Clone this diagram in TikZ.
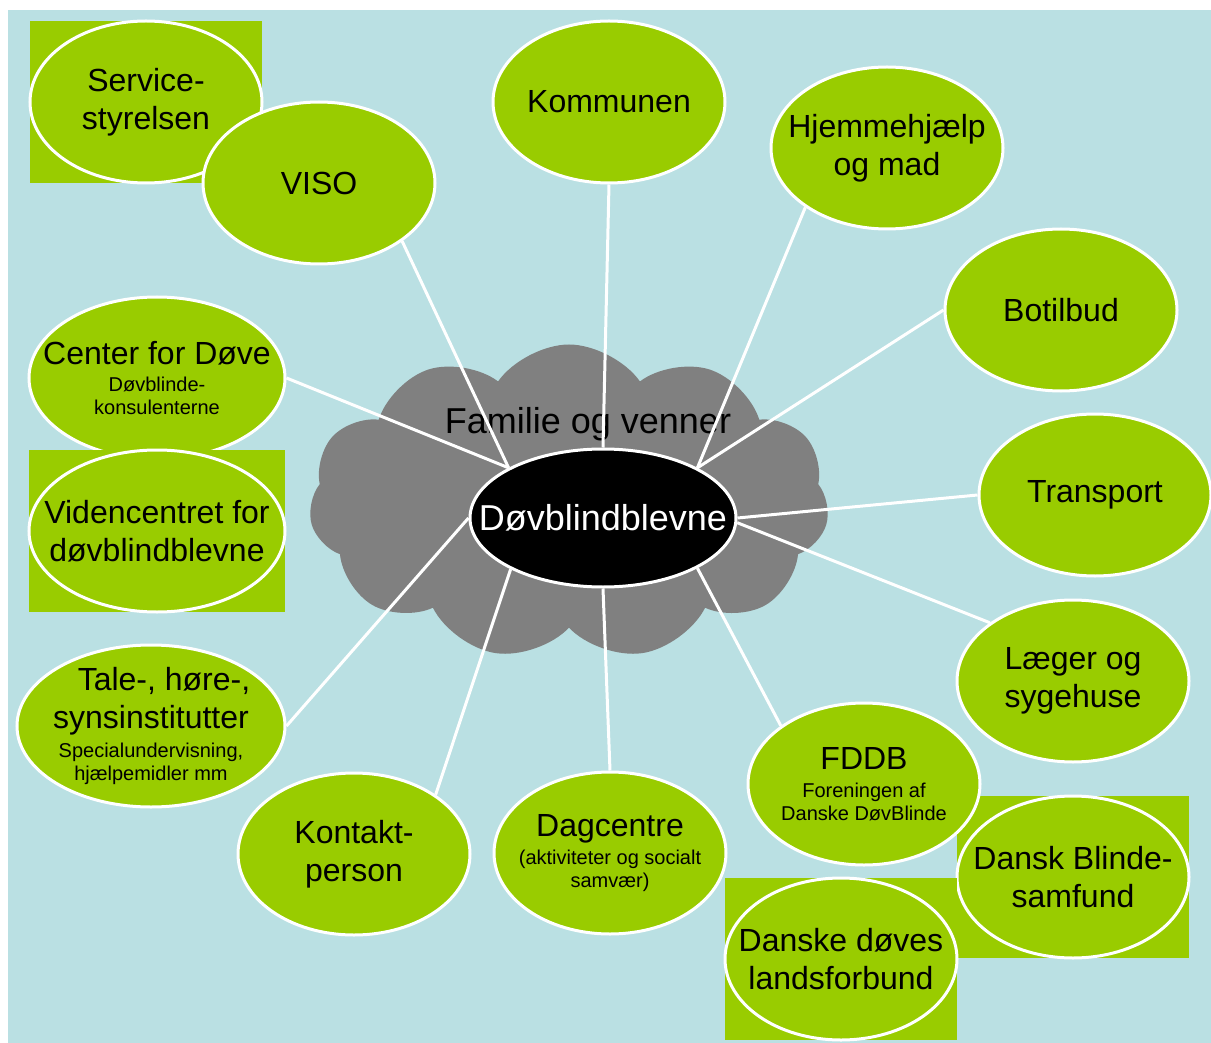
\documentclass[tikz,border=0pt]{standalone}
\usepackage{fontspec}
\setmainfont{Liberation Sans}
\usetikzlibrary{shapes.geometric,shapes.symbols}

\definecolor{skyblue}{HTML}{BAE0E3}
\definecolor{leafgreen}{HTML}{99CC00}
\definecolor{cloudgray}{HTML}{808080}

\newcommand{\bigtxt}{\fontsize{32}{38}\selectfont}
\newcommand{\centertxt}{\fontsize{36}{40}\selectfont}
\newcommand{\note}[1]{{\fontsize{20}{23}\selectfont #1\par}}

\begin{document}
\begin{tikzpicture}[x=1pt, y=-1pt]
      \tikzstyle{party}=[ellipse, draw=white, line width=3pt, fill=leafgreen, minimum width=232pt, minimum height=162pt, inner xsep=-50pt, inner ysep=-12pt, font=\bigtxt,
        execute at begin node={\begin{minipage}{236pt}\centering}, execute at end node={\end{minipage}}]
      \tikzstyle{wide party}=[party, minimum width=256pt]
      \tikzstyle{green box}=[rectangle, fill=leafgreen, minimum width=232pt, minimum height=162pt, inner sep=0pt]
      \tikzstyle{link}=[draw=white, line width=3pt]

      \useasboundingbox (0,0) rectangle (1211,1043);
      \fill[skyblue] (8,10) rectangle (1211,1043);

      % family cloud round the person
      \node[cloud, cloud puffs=11, cloud puff arc=110, aspect=1.65, fill=cloudgray, minimum width=520pt, minimum height=315pt, inner sep=0pt] (family) at (569,502) {};
      \node[font=\centertxt, anchor=base] (familytxt) at (588,433) {Familie og venner};

      % the ring of helpers
      \node[green box] (svcbox) at (146,102) {};
      \node[party] (svc) at (146,102) {Service-\\styrelsen};
      \node[party] (viso) at (319,183) {VISO};
      \node[party] (kommune) at (609,102) {Kommunen};
      \node[party] (hjem) at (887,148) {Hjemmehjælp\\og mad};
      \node[party] (botilbud) at (1061,310) {Botilbud};
      \node[party] (transport) at (1095,495) {Transport};
      \node[party] (laeger) at (1073,681) {Læger og\\sygehuse};
      \node[green box] (blindbox) at (1073,877) {};
      \node[party] (blind) at (1073,877) {Dansk Blinde-\\samfund};
      \node[party] (fddb) at (864,784) {FDDB\\[5pt]\note{Foreningen af\\Danske DøvBlinde}};
      \node[green box] (doevbox) at (841,959) {};
      \node[party] (doev) at (841,959) {Danske døves\\landsforbund};
      \node[party] (dag) at (610,853) {Dagcentre\\[5pt]\note{(aktiviteter og socialt\\samvær)}};
      \node[party] (kontakt) at (354,854) {Kontakt-\\person};
      \node[wide party, minimum width=268pt] (tale) at (151,726) {\hspace*{26pt}Tale-, høre-,\\synsinstitutter\\[6pt]\note{Specialundervisning,\\hjælpemidler mm}};
      \node[wide party] (cfd) at (157,378) {Center for Døve\\[4pt]\note{Døvblinde-\\konsulenterne}};
      \node[green box, minimum width=256pt] (videnbox) at (157,531) {};
      \node[wide party] (viden) at (157,531) {Videncentret for\\døvblindblevne};

      \node[ellipse, fill=black, draw=white, line width=3pt, minimum width=266pt, minimum height=138pt, inner xsep=-80pt, inner ysep=0pt, text=white, font=\centertxt] (dbb) at (603,518) {Døvblindblevne};

      \path (cfd.0) edge [link] (dbb.152);
      \path (viso.-35) edge [link] (dbb.152);
      \path (kommune.-90) edge [link] (dbb.90);
      \path (hjem.-144) edge [link] (dbb.28);
      \path (botilbud.180) edge [link] (dbb.28);
      \path (transport.180) edge [link] (dbb.0);
      \path (laeger.145) edge [link] (dbb.-2);
      \path (fddb.145) edge [link] (dbb.-28);
      \path (dag.90) edge [link] (dbb.-90);
      \path (kontakt.36) edge [link] (dbb.-151);
      \path (tale.0) edge [link] (dbb.180);
\end{tikzpicture}
\end{document}
